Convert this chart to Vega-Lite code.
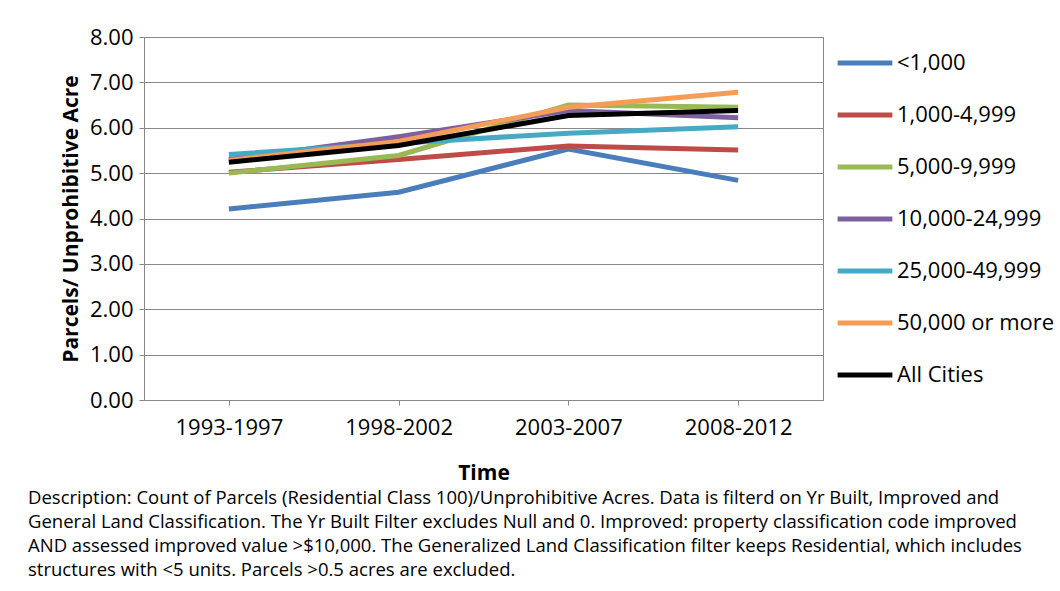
{
  "$schema": "https://vega.github.io/schema/vega-lite/v6.json",
  "autosize": "none",
  "width": 679,
  "height": 363,
  "padding": {"left": 144, "top": 37, "right": 237, "bottom": 191},
  "background": "white",
  "data": {
    "values": [
      {"s": "<1,000", "t": "1993-1997", "v": 4.21},
      {"s": "<1,000", "t": "1998-2002", "v": 4.58},
      {"s": "<1,000", "t": "2003-2007", "v": 5.53},
      {"s": "<1,000", "t": "2008-2012", "v": 4.84},
      {"s": "1,000-4,999", "t": "1993-1997", "v": 5.02},
      {"s": "1,000-4,999", "t": "1998-2002", "v": 5.30},
      {"s": "1,000-4,999", "t": "2003-2007", "v": 5.60},
      {"s": "1,000-4,999", "t": "2008-2012", "v": 5.51},
      {"s": "5,000-9,999", "t": "1993-1997", "v": 5.00},
      {"s": "5,000-9,999", "t": "1998-2002", "v": 5.39},
      {"s": "5,000-9,999", "t": "2003-2007", "v": 6.50},
      {"s": "5,000-9,999", "t": "2008-2012", "v": 6.45},
      {"s": "10,000-24,999", "t": "1993-1997", "v": 5.30},
      {"s": "10,000-24,999", "t": "1998-2002", "v": 5.80},
      {"s": "10,000-24,999", "t": "2003-2007", "v": 6.38},
      {"s": "10,000-24,999", "t": "2008-2012", "v": 6.22},
      {"s": "25,000-49,999", "t": "1993-1997", "v": 5.41},
      {"s": "25,000-49,999", "t": "1998-2002", "v": 5.66},
      {"s": "25,000-49,999", "t": "2003-2007", "v": 5.88},
      {"s": "25,000-49,999", "t": "2008-2012", "v": 6.02},
      {"s": "50,000 or more", "t": "1993-1997", "v": 5.28},
      {"s": "50,000 or more", "t": "1998-2002", "v": 5.70},
      {"s": "50,000 or more", "t": "2003-2007", "v": 6.45},
      {"s": "50,000 or more", "t": "2008-2012", "v": 6.78},
      {"s": "All Cities", "t": "1993-1997", "v": 5.24},
      {"s": "All Cities", "t": "1998-2002", "v": 5.61},
      {"s": "All Cities", "t": "2003-2007", "v": 6.27},
      {"s": "All Cities", "t": "2008-2012", "v": 6.38}
    ]
  },
  "title": {
    "text": [
      "Description: Count of Parcels (Residential Class 100)/Unprohibitive Acres. Data is filterd on Yr Built, Improved and",
      "General Land Classification. The Yr Built Filter excludes Null and 0.  Improved: property classification code improved",
      "AND assessed improved value >$10,000.  The Generalized Land Classification filter keeps Residential, which includes",
      "structures with <5 units.  Parcels >0.5 acres are excluded."
    ],
    "orient": "bottom",
    "anchor": "start",
    "frame": "group",
    "dx": -116,
    "offset": 6,
    "fontSize": 18.5,
    "fontWeight": "normal",
    "lineHeight": 24,
    "font": "Open Sans",
    "color": "black"
  },
  "mark": {"type": "line", "strokeWidth": 5},
  "encoding": {
    "x": {
      "field": "t", "type": "ordinal",
      "scale": {"type": "point", "padding": 0.5},
      "axis": {"title": "Time", "labelAngle": 0, "labelPadding": 12, "titleFontSize": 21, "titlePadding": 24, "labelFontSize": 22}
    },
    "y": {
      "field": "v", "type": "quantitative",
      "scale": {"domain": [0, 8]},
      "axis": {"title": "Parcels/ Unprohibitive Acre", "values": [0,1,2,3,4,5,6,7,8], "format": ".2f", "labelFontSize": 22, "titleFontSize": 21, "titlePadding": 8, "labelPadding": 6}
    },
    "color": {
      "field": "s", "type": "nominal",
      "sort": ["<1,000", "1,000-4,999", "5,000-9,999", "10,000-24,999", "25,000-49,999", "50,000 or more", "All Cities"],
      "scale": {"range": ["#4a7ebb", "#be4b48", "#98b954", "#7d60a0", "#46aac5", "#f59d56", "#000000"]},
      "legend": {
        "title": null, "orient": "none", "legendX": 691, "legendY": -4,
        "symbolType": "stroke", "symbolStrokeWidth": 5, "symbolSize": 3000,
        "labelFontSize": 22, "rowPadding": 11, "labelOffset": 2
      }
    }
  },
  "config": {
    "font": "Open Sans",
    "view": {"stroke": "#888"},
    "axis": {"gridColor": "#888", "domainColor": "#888", "tickColor": "#888", "labelColor": "black", "titleColor": "black", "titleFontWeight": "bold"},
    "axisX": {"grid": false}
  }
}
